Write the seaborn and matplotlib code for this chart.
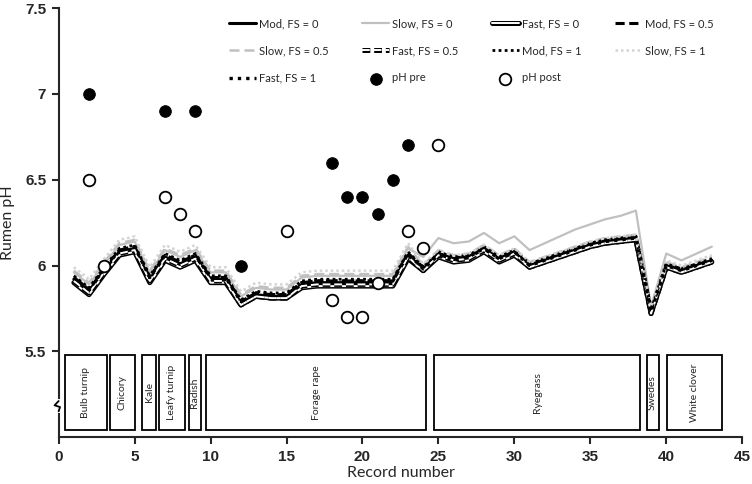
import matplotlib
matplotlib.use('Agg')
import matplotlib.pyplot as plt
import matplotlib.patheffects as pe
from matplotlib.patches import Rectangle
import matplotlib.transforms as mtrans
import seaborn as sns

# データ
records = list(range(1, 44))

mod_fs0 = [5.92, 5.85, 5.97, 6.08, 6.10, 5.92, 6.05, 6.01, 6.05, 5.92,
           5.92, 5.78, 5.83, 5.82, 5.82, 5.89, 5.90, 5.90, 5.90, 5.90,
           5.90, 5.90, 6.06, 5.98, 6.07, 6.04, 6.05, 6.10, 6.04, 6.08,
           6.00, 6.03, 6.06, 6.09, 6.12, 6.14, 6.15, 6.16, 5.73, 6.00,
           5.97, 6.00, 6.03]
slow_fs0 = [5.96, 5.89, 6.01, 6.12, 6.14, 5.96, 6.09, 6.05, 6.09, 5.96,
            5.96, 5.82, 5.87, 5.86, 5.86, 5.93, 5.94, 5.94, 5.94, 5.94,
            5.94, 5.94, 6.10, 6.05, 6.16, 6.13, 6.14, 6.19, 6.13, 6.17,
            6.09, 6.13, 6.17, 6.21, 6.24, 6.27, 6.29, 6.32, 5.76, 6.07,
            6.03, 6.07, 6.11]
fast_fs0 = [5.90, 5.83, 5.95, 6.06, 6.08, 5.90, 6.03, 5.99, 6.03, 5.90,
            5.90, 5.77, 5.82, 5.81, 5.81, 5.87, 5.88, 5.88, 5.88, 5.88,
            5.88, 5.88, 6.04, 5.97, 6.05, 6.02, 6.03, 6.08, 6.02, 6.06,
            5.99, 6.02, 6.05, 6.08, 6.11, 6.13, 6.14, 6.15, 5.72, 5.99,
            5.96, 5.99, 6.02]
mod_fs05 = [5.93, 5.86, 5.98, 6.09, 6.11, 5.93, 6.06, 6.02, 6.06, 5.93,
            5.93, 5.79, 5.84, 5.83, 5.83, 5.90, 5.91, 5.91, 5.91, 5.91,
            5.91, 5.91, 6.07, 5.99, 6.07, 6.04, 6.06, 6.11, 6.05, 6.09,
            6.01, 6.04, 6.07, 6.10, 6.13, 6.15, 6.16, 6.17, 5.74, 6.01,
            5.98, 6.01, 6.04]
slow_fs05 = [5.97, 5.90, 6.02, 6.13, 6.15, 5.97, 6.10, 6.06, 6.10, 5.97,
             5.97, 5.83, 5.88, 5.87, 5.87, 5.94, 5.95, 5.95, 5.95, 5.95,
             5.95, 5.95, 6.11, 6.00, 6.09, 6.06, 6.07, 6.12, 6.06, 6.10,
             6.02, 6.05, 6.08, 6.11, 6.14, 6.16, 6.17, 6.18, 5.75, 6.02,
             5.99, 6.02, 6.05]
fast_fs05 = [5.91, 5.84, 5.96, 6.07, 6.09, 5.91, 6.04, 6.00, 6.04, 5.91,
             5.91, 5.77, 5.82, 5.81, 5.81, 5.88, 5.89, 5.89, 5.89, 5.89,
             5.89, 5.89, 6.05, 5.97, 6.06, 6.03, 6.04, 6.09, 6.03, 6.07,
             5.99, 6.02, 6.05, 6.08, 6.11, 6.13, 6.14, 6.15, 5.72, 5.99,
             5.96, 5.99, 6.02]
mod_fs1 = [5.94, 5.87, 5.99, 6.10, 6.12, 5.94, 6.07, 6.03, 6.07, 5.94,
           5.94, 5.80, 5.85, 5.84, 5.84, 5.91, 5.92, 5.92, 5.92, 5.92,
           5.92, 5.92, 6.08, 5.99, 6.08, 6.05, 6.06, 6.11, 6.05, 6.09,
           6.01, 6.04, 6.07, 6.10, 6.13, 6.15, 6.16, 6.17, 5.74, 6.01,
           5.98, 6.01, 6.04]
slow_fs1 = [5.99, 5.92, 6.04, 6.15, 6.17, 5.99, 6.12, 6.08, 6.12, 5.99,
            5.99, 5.85, 5.90, 5.89, 5.89, 5.96, 5.97, 5.97, 5.97, 5.97,
            5.97, 5.97, 6.13, 6.01, 6.09, 6.06, 6.07, 6.12, 6.06, 6.10,
            6.02, 6.05, 6.08, 6.11, 6.14, 6.16, 6.17, 6.18, 5.76, 6.03,
            6.00, 6.03, 6.06]
fast_fs1 = [5.93, 5.86, 5.98, 6.09, 6.11, 5.93, 6.06, 6.02, 6.06, 5.93,
            5.93, 5.79, 5.84, 5.83, 5.83, 5.90, 5.91, 5.91, 5.91, 5.91,
            5.91, 5.91, 6.07, 5.98, 6.06, 6.03, 6.05, 6.10, 6.04, 6.08,
            6.00, 6.03, 6.06, 6.09, 6.12, 6.14, 6.15, 6.16, 5.73, 6.00,
            5.97, 6.00, 6.03]

pre_x = [2, 7, 9, 12, 18, 19, 20, 21, 22, 23]
pre_y = [7.0, 6.9, 6.9, 6.0, 6.6, 6.4, 6.4, 6.3, 6.5, 6.7]
post_x = [2, 3, 7, 8, 9, 15, 18, 19, 20, 21, 23, 24, 25]
post_y = [6.5, 6.0, 6.4, 6.3, 6.2, 6.2, 5.8, 5.7, 5.7, 5.9, 6.2, 6.1, 6.7]

crops = ['Bulb turnip', 'Chicory', 'Kale', 'Leafy turnip', 'Radish',
         'Forage rape', 'Ryegrass', 'Swedes', 'White clover']
crop_start = [0.4, 3.4, 5.5, 6.6, 8.6, 9.7, 24.7, 38.7, 40.05]
crop_end = [3.2, 5.0, 6.4, 8.3, 9.35, 24.2, 38.3, 39.5, 43.7]

sns.set_style('ticks')
plt.rcParams['font.family'] = ['Lato', 'DejaVu Sans']

fig = plt.figure(figsize=(7.52, 4.84), dpi=100)
ax = fig.add_axes([0.078, 0.097, 0.909, 0.886])

double = [pe.Stroke(linewidth=3.6, foreground='black'),
          pe.Normal()]

series = [
    ('Mod, FS = 0', mod_fs0, dict(color='black', lw=2.2, ls='-')),
    ('Slow, FS = 0', slow_fs0, dict(color='#c0c0c0', lw=1.6, ls='-')),
    ('Fast, FS = 0', fast_fs0, dict(color='white', lw=1.4, ls='-', path_effects=double)),
    ('Mod, FS = 0.5', mod_fs05, dict(color='black', lw=2.2, ls=(0, (3, 1.5)))),
    ('Slow, FS = 0.5', slow_fs05, dict(color='#c0c0c0', lw=1.8, ls=(0, (4, 2)))),
    ('Fast, FS = 0.5', fast_fs05, dict(color='white', lw=1.4, ls=(0, (4, 2)), path_effects=double)),
    ('Mod, FS = 1', mod_fs1, dict(color='black', lw=2.0, ls=(0, (1, 1.2)))),
    ('Slow, FS = 1', slow_fs1, dict(color='#d4d4d4', lw=1.8, ls=(0, (1, 1.2)))),
    ('Fast, FS = 1', fast_fs1, dict(color='black', lw=2.4, ls=(0, (1, 1.5)))),
]

for name, vals, style in series:
    sns.lineplot(x=records, y=vals, ax=ax, label=name, zorder=2, **style)

sns.scatterplot(x=pre_x, y=pre_y, ax=ax, color='black', edgecolor='black',
                s=70, label='pH pre', zorder=4)
sns.scatterplot(x=post_x, y=post_y, ax=ax, color='white', edgecolor='black',
                linewidth=1.3, s=70, label='pH post', zorder=4)

# 作物ごとの箱
for name, a, b in zip(crops, crop_start, crop_end):
    ax.add_patch(Rectangle((a, 5.04), b - a, 0.44, fill=False,
                           edgecolor='black', lw=1.3, zorder=3))
    ax.text((a + b) / 2, 5.26, name, rotation=90, ha='center', va='center',
            fontsize=7.5)

ax.set_xlim(0, 45)
ax.set_ylim(5.0, 7.5)
ax.set_xticks([0, 5, 10, 15, 20, 25, 30, 35, 40, 45])
ax.set_yticks([5.5, 6, 6.5, 7, 7.5])
ax.set_yticklabels(['5.5', '6', '6.5', '7', '7.5'])
for lab in ax.get_xticklabels() + ax.get_yticklabels():
    lab.set_fontfamily('Liberation Sans')
    lab.set_fontweight('bold')
    lab.set_fontsize(11)
ax.tick_params(direction='out', length=5, width=1.5, pad=4)
ax.spines['left'].set_linewidth(1.5)
ax.spines['bottom'].set_linewidth(1.5)
sns.despine(ax=ax)

ax.set_xlabel('Record number', fontsize=11.5, labelpad=2)
ax.set_ylabel('Rumen pH', fontsize=11.5)
ax.yaxis.set_label_coords(-0.064, 0.5)

# 軸の省略記号
tr = mtrans.blended_transform_factory(ax.transAxes, ax.transData)
ax.plot([0, 0], [5.15, 5.21], transform=tr, color='white', lw=3, clip_on=False, zorder=5)
ax.plot([0, -0.006, 0.002, 0], [5.21, 5.185, 5.175, 5.15], transform=tr,
        color='black', lw=1.3, clip_on=False, zorder=6)

h, l = ax.get_legend_handles_labels()
order = [0, 4, 8, 1, 5, 9, 2, 6, 10, 3, 7]
ax.legend([h[i] for i in order], [l[i] for i in order], ncol=4, frameon=False,
          loc='upper left', bbox_to_anchor=(0.235, 1.0), fontsize=8,
          handlelength=2.4, handletextpad=0.3, columnspacing=3.0,
          labelspacing=1.45)

plt.savefig('out.png', dpi=100)
